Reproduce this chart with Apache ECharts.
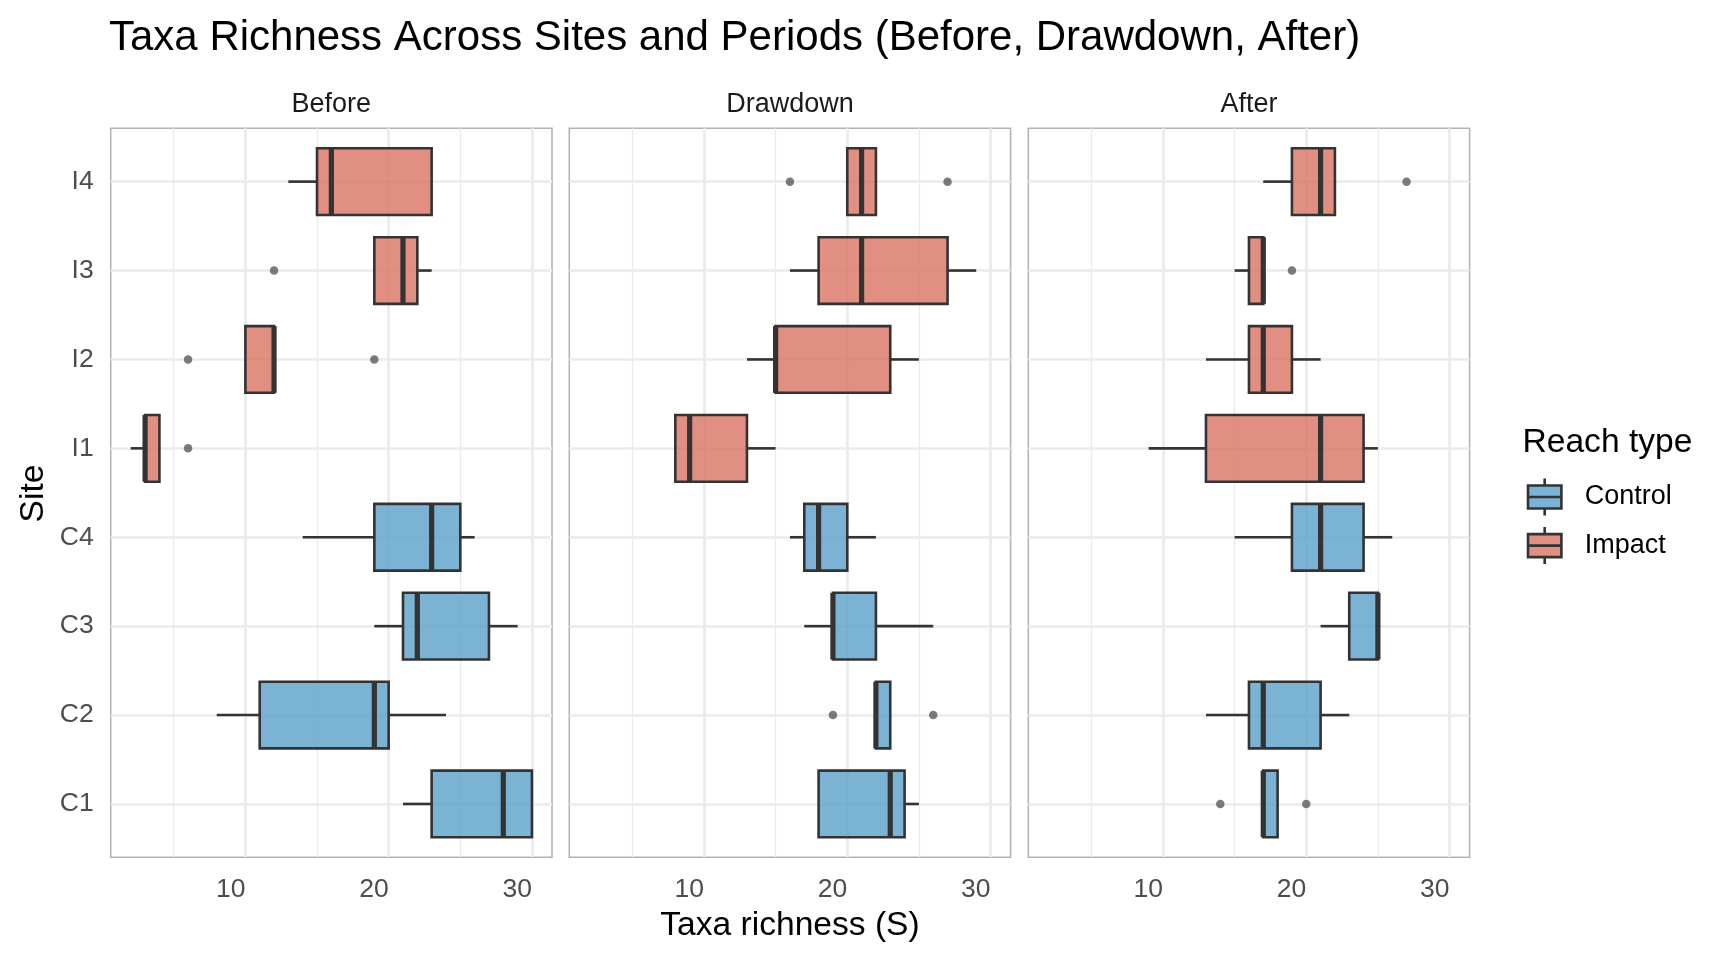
<!DOCTYPE html>
<html>
<head>
<meta charset="utf-8">
<script src="https://cdn.jsdelivr.net/npm/echarts@6/dist/echarts.min.js"></script>
<style>
html,body{margin:0;padding:0;background:#ffffff;}
#chart{width:1728px;height:960px;}
</style>
</head>
<body>
<div id="chart"></div>
<script>
// ---------------- data ----------------
const TITLE = 'Taxa Richness Across Sites and Periods (Before, Drawdown, After)';
const X_TITLE = 'Taxa richness (S)';
const Y_TITLE = 'Site';
const LEGEND_TITLE = 'Reach type';
const PERIODS = ['Before', 'Drawdown', 'After'];
const SITES = ['I4', 'I3', 'I2', 'I1', 'C4', 'C3', 'C2', 'C1'];          // top to bottom
const REACH_OF_SITE = ['Impact', 'Impact', 'Impact', 'Impact', 'Control', 'Control', 'Control', 'Control'];
const REACH_TYPES = ['Control', 'Impact'];
const X_TICKS = [10, 20, 30];
const X_MINOR_TICKS = [5, 15, 25];

// [lower whisker, Q1, median, Q3, upper whisker], rows in SITES order
const BEFORE_STATS = [
  [13, 15, 16, 23, 23],
  [19, 19, 21, 22, 23],
  [10, 10, 12, 12, 12],
  [2, 3, 3, 4, 4],
  [14, 19, 23, 25, 26],
  [19, 21, 22, 27, 29],
  [8, 11, 19, 20, 24],
  [21, 23, 28, 30, 30]
];
const BEFORE_OUTLIERS = [[], [12], [6, 19], [6], [], [], [], []];

const DRAWDOWN_STATS = [
  [20, 20, 21, 22, 22],
  [16, 18, 21, 27, 29],
  [13, 15, 15, 23, 25],
  [8, 8, 9, 13, 15],
  [16, 17, 18, 20, 22],
  [17, 19, 19, 22, 26],
  [22, 22, 22, 23, 23],
  [18, 18, 23, 24, 25]
];
const DRAWDOWN_OUTLIERS = [[16, 27], [], [], [], [], [], [19, 26], []];

const AFTER_STATS = [
  [17, 19, 21, 22, 22],
  [15, 16, 17, 17, 17],
  [13, 16, 17, 19, 21],
  [9, 13, 21, 24, 25],
  [15, 19, 21, 24, 26],
  [21, 23, 25, 25, 25],
  [13, 16, 17, 21, 23],
  [17, 17, 17, 18, 18]
];
const AFTER_OUTLIERS = [[27], [19], [], [], [], [], [], [14, 20]];

// ---------------- styling / layout ----------------
const FONT = '"Liberation Sans", Arial, Helvetica, sans-serif';
const FILL = { Control: 'rgba(90,160,203,0.8)', Impact: 'rgba(218,115,100,0.8)' };
const KEY_FILL = { Control: '#7BB3D6', Impact: '#E18F83' };
const STROKE = '#333333';
const GRID_COLOR = '#EBEBEB';
const X_MIN = 0.6, X_MAX = 31.4, Y_MIN = 0.4, Y_MAX = 8.6;
const BOX_WIDTH = 0.75;
const GRID_LEFTS = [110.7, 569.3, 1028.3];
const GRID_TOP = 128.3, GRID_W = 441.3, GRID_H = 729;

const STATS = [BEFORE_STATS, DRAWDOWN_STATS, AFTER_STATS];
const OUTLIERS = [BEFORE_OUTLIERS, DRAWDOWN_OUTLIERS, AFTER_OUTLIERS];
const siteY = i => SITES.length - i;
const Y_VALUES = SITES.map((s, i) => siteY(i)).reverse();

function renderBox(fill) {
  return function (params, api) {
    const y = api.value(0);
    const lo = api.coord([api.value(1), y]);
    const q1 = api.coord([api.value(2), y]);
    const md = api.coord([api.value(3), y]);
    const q3 = api.coord([api.value(4), y]);
    const hi = api.coord([api.value(5), y]);
    const h = api.size([0, BOX_WIDTH])[1];
    const cy = q1[1];
    return {
      type: 'group',
      children: [
        { type: 'line', shape: { x1: lo[0], y1: cy, x2: q1[0], y2: cy }, style: { stroke: STROKE, lineWidth: 2.6 } },
        { type: 'line', shape: { x1: q3[0], y1: cy, x2: hi[0], y2: cy }, style: { stroke: STROKE, lineWidth: 2.6 } },
        { type: 'rect', shape: { x: q1[0], y: cy - h / 2, width: q3[0] - q1[0], height: h },
          style: { fill: fill, stroke: STROKE, lineWidth: 2.6 } },
        { type: 'line', shape: { x1: md[0], y1: cy - h / 2, x2: md[0], y2: cy + h / 2 },
          style: { stroke: STROKE, lineWidth: 5.2 } }
      ]
    };
  };
}

const grids = [], xAxes = [], yAxes = [], series = [];
PERIODS.forEach((period, p) => {
  grids.push({
    left: GRID_LEFTS[p], top: GRID_TOP, width: GRID_W, height: GRID_H,
    show: true, borderColor: '#B3B3B3', borderWidth: 1.6, backgroundColor: 'transparent', containLabel: false
  });
  // major x axis (labels + major grid lines)
  xAxes.push({
    type: 'value', gridIndex: p, min: X_MIN, max: X_MAX, position: 'bottom',
    axisLine: { show: false },
    axisTick: { show: false, customValues: X_TICKS },
    axisLabel: { show: true, customValues: X_TICKS, margin: 19, align: 'right', color: '#4D4D4D', fontSize: 26.5, fontFamily: FONT },
    splitLine: { show: true, lineStyle: { color: GRID_COLOR, width: 2.7 } }
  });
  // minor x grid lines
  xAxes.push({
    type: 'value', gridIndex: p, min: X_MIN, max: X_MAX, position: 'top',
    axisLine: { show: false },
    axisTick: { show: false, customValues: X_MINOR_TICKS },
    axisLabel: { show: false, customValues: X_MINOR_TICKS },
    splitLine: { show: true, lineStyle: { color: GRID_COLOR, width: 1.35 } }
  });
  yAxes.push({
    type: 'value', gridIndex: p, min: Y_MIN, max: Y_MAX,
    axisLine: { show: false },
    axisTick: { show: false, customValues: Y_VALUES },
    axisLabel: { show: p === 0, customValues: Y_VALUES, margin: 17, color: '#4D4D4D', fontSize: 26.5, fontFamily: FONT,
      padding: [3, 0, 0, 0],
      formatter: v => SITES[SITES.length - Math.round(v)] },
    splitLine: { show: true, lineStyle: { color: GRID_COLOR, width: 2.7 } }
  });
  REACH_TYPES.forEach(reach => {
    const data = [];
    SITES.forEach((s, i) => {
      if (REACH_OF_SITE[i] === reach) data.push([siteY(i)].concat(STATS[p][i]));
    });
    series.push({
      type: 'custom', name: reach, xAxisIndex: 2 * p, yAxisIndex: p,
      itemStyle: { color: KEY_FILL[reach] },
      encode: { x: [1, 2, 3, 4, 5], y: 0 },
      renderItem: renderBox(FILL[reach]),
      data: data, z: 2, silent: true
    });
  });
  const outData = [];
  SITES.forEach((s, i) => OUTLIERS[p][i].forEach(v => outData.push([v, siteY(i)])));
  series.push({
    type: 'scatter', name: 'outliers', xAxisIndex: 2 * p, yAxisIndex: p,
    symbol: 'circle', symbolSize: 8.5, itemStyle: { color: '#5A5A5A' },
    data: outData, z: 3, silent: true
  });
});

const KEY_PATH = 'path://M18,0 L18,7 M1.3,7 L34.7,7 L34.7,30 L1.3,30 Z M1.3,18.5 L34.7,18.5 M18,30 L18,37';

const graphics = [
  { type: 'text', left: 109, top: 17, style: { text: TITLE, fontSize: 42, fontFamily: FONT, fill: '#000000' } },
  { type: 'text', x: 790, y: 925.5, style: { text: X_TITLE, fontSize: 33.6, fontFamily: FONT, fill: '#000000', align: 'center', verticalAlign: 'middle' } },
  { type: 'text', x: 34, y: 493.5, rotation: Math.PI / 2, style: { text: Y_TITLE, fontSize: 33.6, fontFamily: FONT, fill: '#000000', align: 'center', verticalAlign: 'middle' } },
  { type: 'text', x: 1522.5, y: 442.5, style: { text: LEGEND_TITLE, fontSize: 33.6, fontFamily: FONT, fill: '#000000', align: 'left', verticalAlign: 'middle' } }
];
PERIODS.forEach((period, p) => {
  graphics.push({ type: 'text', x: GRID_LEFTS[p] + GRID_W / 2, y: 104.8,
    style: { text: period, fontSize: 27, fontFamily: FONT, fill: '#1A1A1A', align: 'center', verticalAlign: 'middle' } });
});

const chart = echarts.init(document.getElementById('chart'), null, { renderer: 'canvas' });
chart.setOption({
  animation: false,
  backgroundColor: '#ffffff',
  grid: grids,
  xAxis: xAxes,
  yAxis: yAxes,
  series: series,
  legend: {
    data: REACH_TYPES.map(r => ({ name: r, icon: KEY_PATH })),
    orient: 'vertical', left: 1526.7, top: 477.2, padding: 0,
    itemWidth: 36, itemHeight: 37, itemGap: 9,
    itemStyle: { borderColor: STROKE, borderWidth: 2.6 },
    textStyle: { fontSize: 27, fontFamily: FONT, color: '#000000', padding: [0, 0, 0, 17] },
    selectedMode: false
  },
  graphic: graphics
});
</script>
</body>
</html>
